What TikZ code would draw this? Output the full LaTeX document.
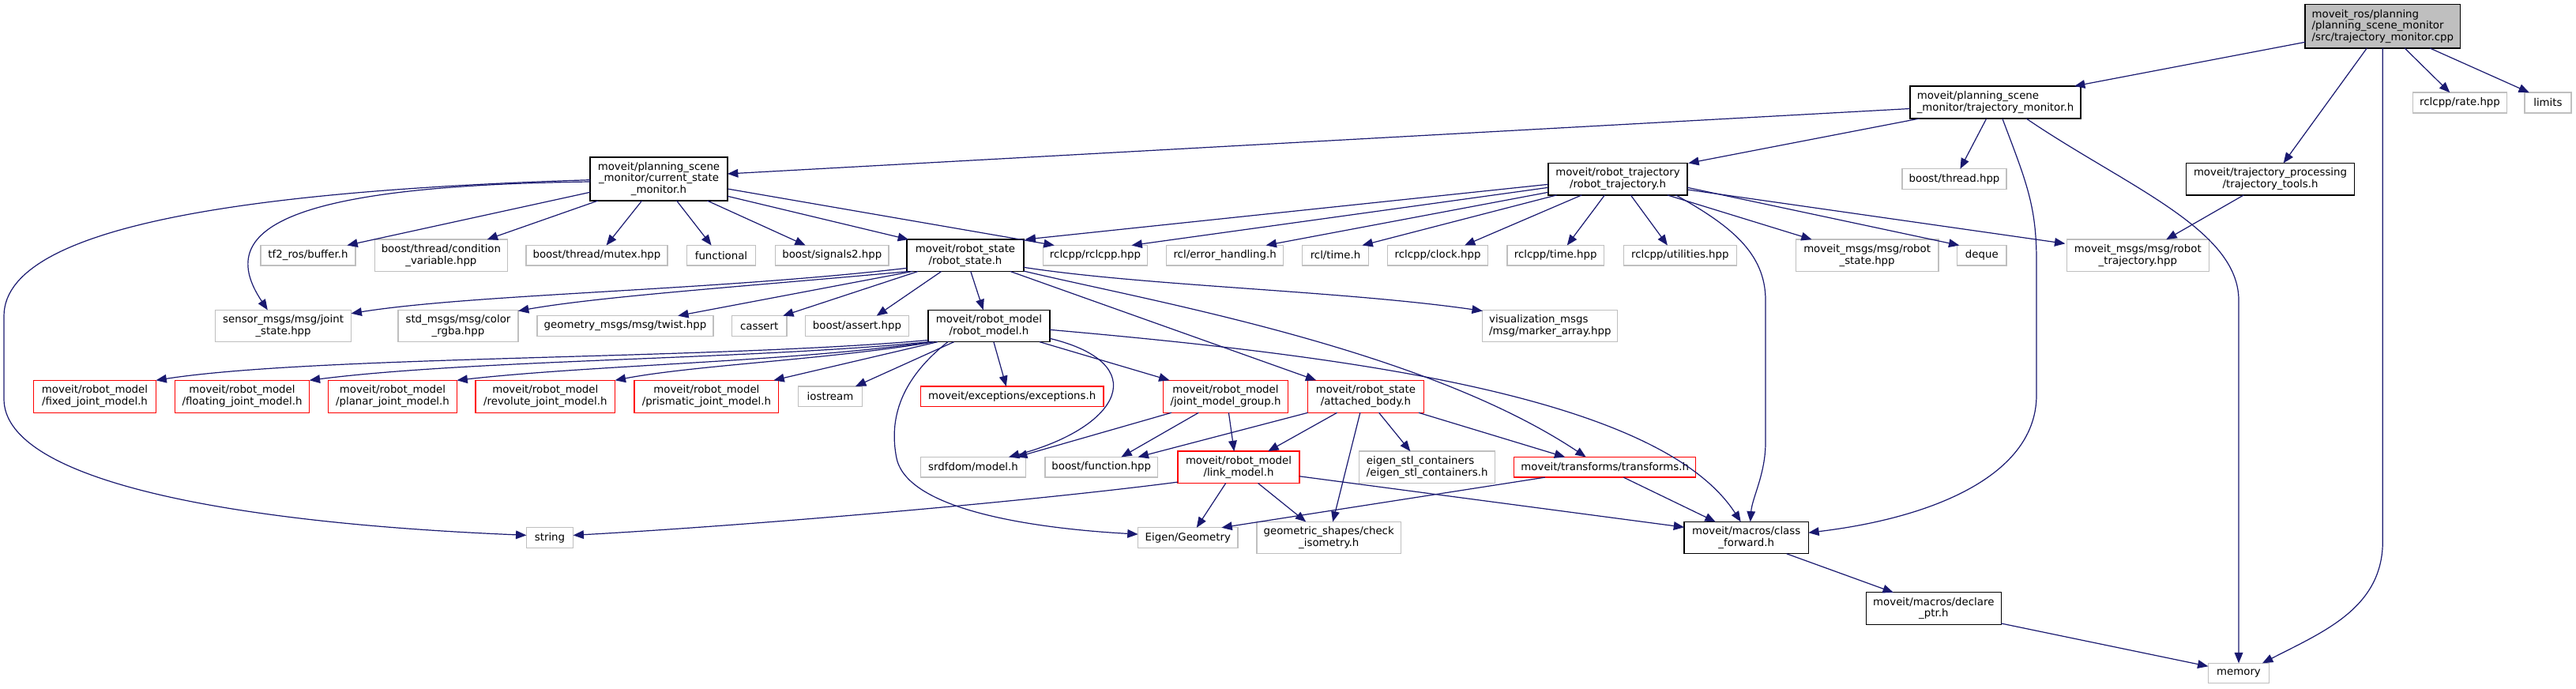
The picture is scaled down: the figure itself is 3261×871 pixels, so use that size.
\documentclass[tikz,border=0pt]{standalone}
\usepackage{fontspec}
\setmainfont{DejaVu Sans}
\usetikzlibrary{arrows.meta}
\definecolor{edgeblue}{HTML}{191970}
\definecolor{gborder}{HTML}{BFBFBF}
\definecolor{rootgray}{HTML}{BFBFBF}
\definecolor{rborder}{HTML}{FF0000}
\newcommand\nodefont{\fontsize{10}{11}\selectfont}
\newcommand\edg[6]{\draw[conn] ([shift={(#2,#3)}]#1.center) -- ([shift={(#5,#6)}]#4.center);}
\tikzset{
  nb/.style={draw, rectangle, inner sep=0pt, font=\nodefont, align=center, line width=1pt, fill=white},
  gnode/.style={nb, draw=gborder},
  bnode/.style={nb, draw=black},
  rnode/.style={nb, draw=rborder},
  rootnode/.style={nb, draw=black, fill=rootgray},
  wh/.style 2 args={minimum width={#1*0.75pt}, minimum height={#2*0.75pt}},
  conn/.style={draw=edgeblue, line width=0.9pt, -{Triangle[length=10pt,width=8pt]}},
}
\begin{document}
\begin{tikzpicture}[x=0.75pt,y=-0.75pt]
\fill[white] (0,0) rectangle (3261,871);
\useasboundingbox (0,0) rectangle (3261,871);
% row 1-3
\node[rootnode, wh={196.4}{55.3}, align=left] (root) at (3016.3,33.3) {moveit\_ros/planning\\/planning\_scene\_monitor\\/src/trajectory\_monitor.cpp};
\node[bnode, wh={216}{41}, align=left] (tmh) at (2526,129.5) {moveit/planning\_scene\\\_monitor/trajectory\_monitor.h};
\node[gnode, wh={118.6}{25.7}] (rate) at (3114,130) {rclcpp/rate.hpp};
\node[gnode, wh={58.8}{25.7}] (limits) at (3225.4,130) {limits};
\node[bnode, wh={174}{55}] (csm) at (834,226.5) {moveit/planning\_scene\\\_monitor/current\_state\\\_monitor.h};
\node[bnode, wh={176}{40.4}] (rtraj) at (2048,226.7) {moveit/robot\_trajectory\\/robot\_trajectory.h};
\node[gnode, wh={132}{25.6}] (bthread) at (2474,226.5) {boost/thread.hpp};
\node[bnode, wh={213}{40.4}] (ttools) at (2874,226.7) {moveit/trajectory\_processing\\/trajectory\_tools.h};
% row 4
\node[gnode, wh={120}{25.5}] (tf2) at (390,323.3) {tf2\_ros/buffer.h};
\node[gnode, wh={168}{40.4}] (condvar) at (558.4,323.3) {boost/thread/condition\\\_variable.hpp};
\node[gnode, wh={179}{25.5}] (mutex) at (755.5,323.3) {boost/thread/mutex.hpp};
\node[gnode, wh={87.4}{25.5}] (functional) at (913,323.3) {functional};
\node[gnode, wh={143.5}{25.5}] (signals2) at (1053.3,323.3) {boost/signals2.hpp};
\node[bnode, wh={147.7}{40.4}] (rstate) at (1222,323.3) {moveit/robot\_state\\/robot\_state.h};
\node[gnode, wh={132.3}{25.5}] (rclcpp) at (1386.5,323.3) {rclcpp/rclcpp.hpp};
\node[gnode, wh={148}{25.5}] (errh) at (1550.6,323.3) {rcl/error\_handling.h};
\node[gnode, wh={83.6}{25.5}] (rcltime) at (1690.5,323.3) {rcl/time.h};
\node[gnode, wh={126.5}{25.5}] (clock) at (1820,323.3) {rclcpp/clock.hpp};
\node[gnode, wh={122.3}{25.5}] (rtime) at (1969.2,323.3) {rclcpp/time.hpp};
\node[gnode, wh={143}{25.5}] (util) at (2126.8,323.3) {rclcpp/utilities.hpp};
\node[gnode, wh={180.4}{40.4}] (mrs) at (2363.6,323.3) {moveit\_msgs/msg/robot\\\_state.hpp};
\node[gnode, wh={62.5}{25.5}] (deque) at (2508.8,323.3) {deque};
\node[gnode, wh={180}{40.4}] (mrt) at (2706.3,323.3) {moveit\_msgs/msg/robot\\\_trajectory.hpp};
% row 5
\node[gnode, wh={172}{40.4}] (joint) at (358.6,412.5) {sensor\_msgs/msg/joint\\\_state.hpp};
\node[gnode, wh={152}{40.4}] (color) at (580,412.5) {std\_msgs/msg/color\\\_rgba.hpp};
\node[gnode, wh={223}{25.7}] (twist) at (791.5,412.5) {geometry\_msgs/msg/twist.hpp};
\node[gnode, wh={69.4}{25.7}] (cassert) at (961.2,412.5) {cassert};
\node[gnode, wh={130.7}{25.7}] (bassert) at (1085,412.5) {boost/assert.hpp};
\node[bnode, wh={154}{40.4}] (rmodel) at (1251.9,412.5) {moveit/robot\_model\\/robot\_model.h};
\node[gnode, wh={171}{40.4}, align=left] (viz) at (1962.3,412.5) {visualization\_msgs\\/msg/marker\_array.hpp};
% row 6
\node[rnode, wh={155}{41}] (fixed) at (120,501.8) {moveit/robot\_model\\/fixed\_joint\_model.h};
\node[rnode, wh={170.5}{41}] (floating) at (306.5,501.8) {moveit/robot\_model\\/floating\_joint\_model.h};
\node[rnode, wh={163}{41}] (planar) at (497,501.8) {moveit/robot\_model\\/planar\_joint\_model.h};
\node[rnode, wh={176.8}{41}] (revolute) at (690.3,501.8) {moveit/robot\_model\\/revolute\_joint\_model.h};
\node[rnode, wh={182.8}{41}] (prismatic) at (894.4,501.8) {moveit/robot\_model\\/prismatic\_joint\_model.h};
\node[gnode, wh={80.5}{25.7}] (iostream) at (1051,501.8) {iostream};
\node[rnode, wh={231.8}{25.7}] (exceptions) at (1281.2,501.8) {moveit/exceptions/exceptions.h};
\node[rnode, wh={158.4}{41}] (jmg) at (1551.5,501.8) {moveit/robot\_model\\/joint\_model\_group.h};
\node[rnode, wh={146.6}{41}] (attached) at (1728.9,501.8) {moveit/robot\_state\\/attached\_body.h};
% row 7
\node[gnode, wh={133.4}{25.7}] (srdf) at (1232,591.3) {srdfdom/model.h};
\node[gnode, wh={142.4}{25.7}] (bfunc) at (1394.2,591.3) {boost/function.hpp};
\node[rnode, wh={154.2}{40.4}] (link) at (1568,591.3) {moveit/robot\_model\\/link\_model.h};
\node[gnode, wh={172}{40.4}, align=left] (eigenstl) at (1806.7,591.3) {eigen\_stl\_containers\\/eigen\_stl\_containers.h};
\node[rnode, wh={230.2}{25.7}] (transforms) at (2031.7,591.3) {moveit/transforms/transforms.h};
% row 8-10
\node[gnode, wh={59.2}{25.6}] (string) at (696,680.6) {string};
\node[gnode, wh={126.5}{25.6}] (eigengeo) at (1503.8,680.6) {Eigen/Geometry};
\node[gnode, wh={182.7}{40.4}] (geoshapes) at (1682.2,680.6) {geometric\_shapes/check\\\_isometry.h};
\node[bnode, wh={157.3}{40.4}] (classfwd) at (2210.7,680.6) {moveit/macros/class\\\_forward.h};
\node[bnode, wh={171}{40.4}] (declptr) at (2447.8,770) {moveit/macros/declare\\\_ptr.h};
\node[gnode, wh={77.3}{25.4}] (memory) at (2834,852) {memory};

% ---- edges: root
\edg{root}{-98.2}{20}{tmh}{100}{-20.5}
\edg{root}{-20}{27.6}{ttools}{16.6}{-20.2}
\draw[conn] ([shift={(0,27.6)}]root.center) -- (3016.3,685) .. controls (3016.3,770) and (2940,800) .. ([shift={(30,-12.7)}]memory.center);
\edg{root}{27.7}{27.6}{rate}{-12.7}{-12.85}
\edg{root}{59.6}{27.6}{limits}{-23.6}{-12.85}
% tmh
\edg{tmh}{-108}{8}{csm}{87}{-6.5}
\edg{tmh}{-96}{20.5}{rtraj}{89.3}{-20.2}
\edg{tmh}{-11.3}{20.5}{bthread}{7.4}{-12.8}
\draw[conn] ([shift={(8.8,20.5)}]tmh.center) .. controls (2565,230) and (2578,260) .. (2578,330) -- (2578,500) .. controls (2578,600) and (2450,655) .. ([shift={(78.6,-6.4)}]classfwd.center);
\draw[conn] ([shift={(39,20.5)}]tmh.center) .. controls (2690,235) and (2834,290) .. (2834,380) -- ([shift={(0,-12.7)}]memory.center);
% rtraj
\edg{rtraj}{-88}{6.6}{rstate}{75.6}{-20.2}
\edg{rtraj}{-88}{10.6}{rclcpp}{46}{-12.8}
\edg{rtraj}{-88}{16.6}{errh}{52}{-12.8}
\edg{rtraj}{-77.4}{20.2}{rcltime}{34}{-12.8}
\edg{rtraj}{-45.7}{20.2}{clock}{34}{-12.8}
\edg{rtraj}{-16.6}{20.2}{rtime}{14.6}{-12.8}
\edg{rtraj}{16.3}{20.2}{util}{-15.9}{-12.8}
\edg{rtraj}{62.8}{20.2}{mrs}{-70}{-20.2}
\draw[conn] ([shift={(73.4,20.2)}]rtraj.center) .. controls (2190,285) and (2235,320) .. (2235,380) -- (2235,560) .. controls (2235,600) and (2218,630) .. ([shift={(5,-20.2)}]classfwd.center);
\edg{rtraj}{88}{10.6}{deque}{-28.5}{-12.8}
\edg{rtraj}{88}{13.3}{mrt}{-92}{-15}
% ttools
\edg{ttools}{-33.7}{20.2}{mrt}{36}{-20.2}
% csm
\draw[conn] ([shift={(-87,1.2)}]csm.center) .. controls (350,240) and (5,280) .. (5,400) -- (5,505) .. controls (5,600) and (250,660) .. ([shift={(-29.6,-3.2)}]string.center);
\draw[conn] ([shift={(-87,3.5)}]csm.center) .. controls (360,235) and (270,290) .. ([shift={(-19.8,-20.2)}]joint.center);
\edg{csm}{-87}{16.8}{tf2}{49.4}{-12.8}
\edg{csm}{-77}{27.5}{condvar}{58.3}{-20.2}
\edg{csm}{-21.4}{27.5}{mutex}{12.1}{-12.8}
\edg{csm}{22.6}{27.5}{functional}{-12.4}{-12.8}
\edg{csm}{61.3}{27.5}{signals2}{-33.6}{-12.8}
\edg{csm}{87}{21.8}{rstate}{-72}{-20.2}
\edg{csm}{87}{12.5}{rclcpp}{-51.8}{-12.8}
% rstate
\draw[conn] ([shift={(-73.85,16)}]rstate.center) .. controls (900,368) and (600,372) .. ([shift={(86,-15.8)}]joint.center);
\draw[conn] ([shift={(-72,20.2)}]rstate.center) .. controls (950,362) and (760,375) .. ([shift={(76,-19)}]color.center);
\edg{rstate}{-67}{20.2}{twist}{66.7}{-12.85}
\edg{rstate}{-60}{20.2}{cassert}{30}{-12.85}
\edg{rstate}{-30.3}{20.2}{bassert}{24.7}{-12.85}
\edg{rstate}{6.8}{20.2}{rmodel}{-7.2}{-20.2}
\draw[conn] ([shift={(73.85,15)}]rstate.center) .. controls (1450,362) and (1700,368) .. ([shift={(-85.5,-19)}]viz.center);
\edg{rstate}{57}{20.2}{attached}{-62.7}{-20.5}
\draw[conn] ([shift={(73.85,19.7)}]rstate.center) .. controls (1450,380) and (1800,440) .. ([shift={(-24,-12.85)}]transforms.center);
% rmodel
\draw[conn] ([shift={(-77,18)}]rmodel.center) .. controls (900,455) and (400,450) .. ([shift={(77.5,-20.5)}]fixed.center);
\draw[conn] ([shift={(-76,20.2)}]rmodel.center) .. controls (950,455) and (600,455) .. ([shift={(85.25,-20.5)}]floating.center);
\draw[conn] ([shift={(-73,20.2)}]rmodel.center) .. controls (1000,458) and (750,462) .. ([shift={(81.5,-20.5)}]planar.center);
\draw[conn] ([shift={(-70,20.2)}]rmodel.center) .. controls (1050,455) and (880,462) .. ([shift={(88.4,-20.5)}]revolute.center);
\edg{rmodel}{-65}{20.2}{prismatic}{85}{-20.5}
\edg{rmodel}{-44.3}{20.2}{iostream}{32}{-12.85}
\edg{rmodel}{6}{20.2}{exceptions}{-7.4}{-12.85}
\edg{rmodel}{64.2}{20.2}{jmg}{-71}{-20.5}
\draw[conn] ([shift={(77,15.8)}]rmodel.center) .. controls (1460,460) and (1420,540) .. ([shift={(45,-12.85)}]srdf.center);
\draw[conn] ([shift={(-52,20.2)}]rmodel.center) .. controls (1140,480) and (1125,530) .. (1135,580) .. controls (1150,650) and (1330,670) .. ([shift={(-63.2,-4.5)}]eigengeo.center);
\draw[conn] ([shift={(77,4.8)}]rmodel.center) .. controls (1700,450) and (2100,500) .. ([shift={(-7,-20.2)}]classfwd.center);
% jmg
\edg{jmg}{-68.6}{20.5}{srdf}{55}{-12.85}
\edg{jmg}{-34.2}{20.5}{bfunc}{25.2}{-12.85}
\edg{jmg}{3.9}{20.5}{link}{-5.7}{-20.2}
% attached
\edg{attached}{-73.3}{20.5}{bfunc}{46.4}{-12.85}
\edg{attached}{-36.3}{20.5}{link}{37.3}{-20.2}
\edg{attached}{-7.1}{20.5}{geoshapes}{5}{-20.2}
\edg{attached}{16.7}{20.5}{eigenstl}{-21.4}{-20.2}
\edg{attached}{67}{20.5}{transforms}{-50.5}{-12.85}
% link
\draw[conn] ([shift={(-77.1,18.8)}]link.center) .. controls (1300,635) and (950,665) .. ([shift={(29.6,-3.2)}]string.center);
\edg{link}{-16.3}{20.2}{eigengeo}{11}{-12.8}
\edg{link}{24.5}{20.2}{geoshapes}{-29}{-20.2}
\edg{link}{77.1}{11.5}{classfwd}{-78.65}{-13.3}
% transforms
\edg{transforms}{-76}{12.85}{eigengeo}{42.6}{-12.8}
\edg{transforms}{23.6}{12.85}{classfwd}{-39}{-20.2}
% macros
\edg{classfwd}{51}{20.2}{declptr}{-51}{-20.2}
\edg{declptr}{85.5}{19}{memory}{-38.65}{-8.7}
\end{tikzpicture}
\end{document}
